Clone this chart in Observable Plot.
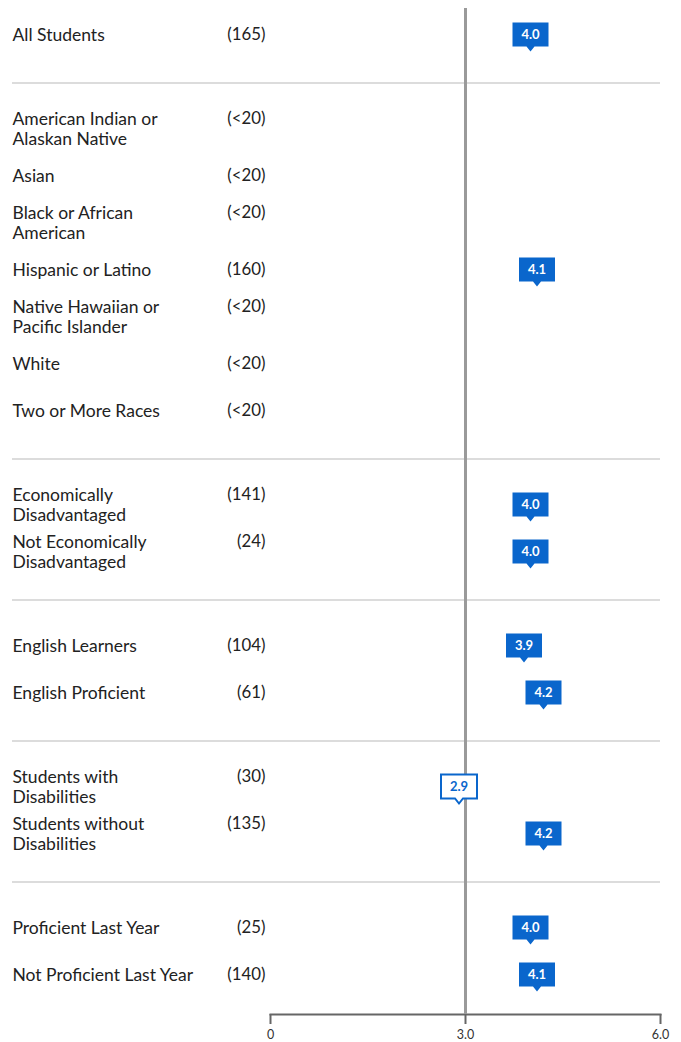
<!DOCTYPE html>
<html>
<head>
<meta charset="utf-8">
<script src="https://cdn.jsdelivr.net/npm/d3@7"></script>
<script src="https://cdn.jsdelivr.net/npm/@observablehq/plot@0.6"></script>
<style>
  html, body { margin: 0; padding: 0; background: #fff; }
  #chart svg { display: block; }
</style>
</head>
<body>
<div id="chart"></div>
<script>
// ---- data ----
const categories = [
  "All Students",
  "American Indian or Alaskan Native", "Asian", "Black or African American", "Hispanic or Latino",
  "Native Hawaiian or Pacific Islander", "White", "Two or More Races",
  "Economically Disadvantaged", "Not Economically Disadvantaged",
  "English Learners", "English Proficient",
  "Students with Disabilities", "Students without Disabilities",
  "Proficient Last Year", "Not Proficient Last Year"
];
const labels = [
  "All Students",
  "American Indian or\nAlaskan Native", "Asian", "Black or African\nAmerican", "Hispanic or Latino",
  "Native Hawaiian or\nPacific Islander", "White", "Two or More Races",
  "Economically\nDisadvantaged", "Not Economically\nDisadvantaged",
  "English Learners", "English Proficient",
  "Students with\nDisabilities", "Students without\nDisabilities",
  "Proficient Last Year", "Not Proficient Last Year"
];
const counts = ["(165)", "(<20)", "(<20)", "(<20)", "(160)", "(<20)", "(<20)", "(<20)",
  "(141)", "(24)", "(104)", "(61)", "(30)", "(135)", "(25)", "(140)"];
const scores = [4.0, null, null, null, 4.1, null, null, null, 4.0, 4.0, 3.9, 4.2, 2.9, 4.2, 4.0, 4.1];
const groupIds = [0, 1, 1, 1, 1, 1, 1, 1, 2, 2, 3, 3, 4, 4, 5, 5];
const targetScore = 3.0;
const axisTicks = [0, 3, 6];
const xDomain = [0, 6];

// ---- build table ----
const rows = categories.map((c, i) => ({
  cat: c, label: labels[i], count: counts[i], score: scores[i], group: groupIds[i],
  twoLine: labels[i].includes("\n")
}));
const yDomain = [];
const separators = [];
rows.forEach((r, i) => {
  if (i > 0 && r.group !== rows[i - 1].group) {
    const key = "sep" + r.group;
    yDomain.push(key);
    separators.push(key);
  }
  yDomain.push(r.cat);
});
const scored = rows.filter(r => r.score != null);
const blue = "#0a66cc";

const marker = {
  draw(ctx) {
    ctx.moveTo(-18, -12);
    ctx.lineTo(18, -12);
    ctx.lineTo(18, 12);
    ctx.lineTo(4, 12);
    ctx.lineTo(0, 17);
    ctx.lineTo(-4, 12);
    ctx.lineTo(-18, 12);
    ctx.closePath();
  }
};

const font = "Lato, 'Noto Sans', sans-serif";

const chart = Plot.plot({
  width: 681,
  height: 1042,
  marginLeft: 270,
  marginRight: 21,
  marginTop: 8,
  marginBottom: 28,
  style: { fontFamily: font, background: "#fff" },
  x: { domain: xDomain, axis: null, label: null },
  y: { type: "point", domain: yDomain, axis: null, padding: 0, insetTop: 26, insetBottom: 40 },
  marks: [
    Plot.ruleY(separators, { y: d => d, stroke: "#dcdcdc", strokeWidth: 2, insetLeft: -258, dy: 1.5 }),
    Plot.frame({ anchor: "bottom", stroke: "#666", strokeWidth: 2 }),
    Plot.axisX({
      ticks: axisTicks, tickFormat: d => d === 0 ? "0" : d.toFixed(1), label: null,
      tickSize: 10, tickPadding: 6, stroke: "#666", strokeWidth: 2,
      fill: "#333", fontSize: 12.5, fontFamily: font
    }),
    Plot.ruleX([targetScore], { stroke: "#9a9a9a", strokeWidth: 3 }),
    Plot.text(rows, {
      y: "cat", text: "label", frameAnchor: "left", dx: -258, textAnchor: "start",
      lineAnchor: "middle", lineHeight: 1.143, fontSize: 17.5, fill: "#222", fontFamily: font
    }),
    Plot.text(rows.filter(r => !r.twoLine), {
      y: "cat", text: "count", frameAnchor: "left", dx: -5, textAnchor: "end",
      lineAnchor: "middle", fontSize: 16.8, fill: "#222", fontFamily: font
    }),
    Plot.text(rows.filter(r => r.twoLine), {
      y: "cat", text: "count", frameAnchor: "left", dx: -5, dy: -10, textAnchor: "end",
      lineAnchor: "middle", fontSize: 16.8, fill: "#222", fontFamily: font
    }),
    Plot.dot(scored, {
      x: "score", y: "cat", symbol: marker, r: 10,
      fill: d => d.score < targetScore ? "#fff" : blue,
      stroke: blue, strokeWidth: d => d.score < targetScore ? 2 : 0
    }),
    Plot.text(scored, {
      x: "score", y: "cat", text: d => d.score.toFixed(1),
      fill: d => d.score < targetScore ? blue : "#fff",
      fontWeight: "bold", fontSize: 13, fontFamily: font, lineAnchor: "middle"
    })
  ]
});
document.getElementById("chart").appendChild(chart);
</script>
</body>
</html>
